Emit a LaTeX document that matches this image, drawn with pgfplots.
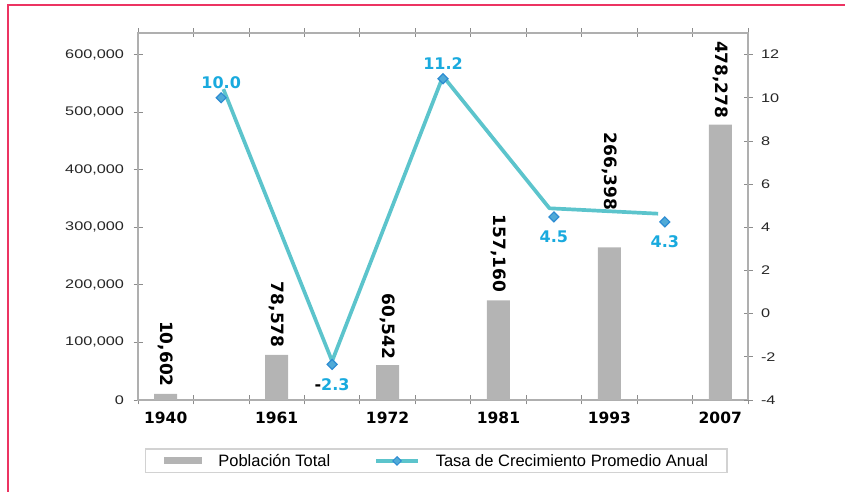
\documentclass[border=0pt]{standalone}
\usepackage{pgfplots}
\usepackage{pgfplotstable}
\pgfplotsset{compat=1.18}
\usepackage{fontspec}
\setmainfont{Liberation Sans}
\newfontfamily\tickfont[FakeStretch=1.3]{Liberation Sans}
\newfontfamily\dvs{DejaVu Sans}
\definecolor{pinkframe}{RGB}{236,52,98}
\definecolor{barg}{RGB}{180,180,180}
\definecolor{linec}{RGB}{92,196,204}
\definecolor{markf}{RGB}{80,170,215}
\definecolor{markd}{RGB}{45,140,210}
\definecolor{labc}{RGB}{25,170,222}
\definecolor{axg}{RGB}{175,175,175}
\definecolor{tickg}{RGB}{140,140,140}

\pgfplotstableread{
x y label off
0 10602 10,602 7
1 78578 78,578 7
2 60542 60,542 6
3 173000 157,160 8
4 265000 266,398 37
5 478278 478,278 6
}\bars

\begin{document}
\begin{tikzpicture}
\useasboundingbox (0pt,0pt) rectangle (845pt,492pt);
\draw[pinkframe, line width=2.5pt] (8pt,-3pt) -- (8pt,487pt) -- (850pt,487pt);
\begin{axis}[
  at={(138pt,92pt)}, anchor=south west,
  scale only axis, width=610pt, height=367pt,
  xmin=-0.25, xmax=5.25, ymin=0, ymax=637500,
  clip=false,
  axis line style={draw=axg, line width=1.5pt},
  xtick={0,1,2,3,4,5},
  xticklabels={1940,1961,1972,1981,1993,2007},
  major x tick style={draw=none},
  minor xtick={-0.25,0.25,0.75,1.25,1.75,2.25,2.75,3.25,3.75,4.25,4.75,5.25},
  minor x tick style={draw=tickg, line width=0.8pt},
  minor tick length=9pt,
  ytick={0,100000,200000,300000,400000,500000,600000},
  ytick pos=left,
  major y tick style={draw=tickg, line width=0.8pt},
  major tick length=9pt,
  tick align=center,
  scaled y ticks=false,
  /pgf/number format/.cd, fixed, 1000 sep={,}, assume math mode=true,
  /pgfplots/.cd,
  yticklabel style={font=\tickfont\fontsize{12.5}{12.5}\selectfont, text=black!85, xshift=-6pt},
  xticklabel style={font=\dvs\bfseries\fontsize{15.5}{15.5}\selectfont, text=black, yshift=-4pt},
  legend columns=2,
  legend cell align=left,
  legend style={at={(0.489,-0.166)}, anchor=center, draw=gray!35, line width=1.5pt,
    inner xsep=19pt, inner ysep=3pt,
    font=\fontsize{16.5}{16.5}\selectfont,
    nodes={inner xsep=0pt, inner ysep=2pt},
    /tikz/every odd column/.append style={column sep=16pt},
    /tikz/every even column/.append style={column sep=44pt}},
]
\addplot[ybar, bar width=23pt, fill=barg, draw=none,
  nodes near coords, point meta=explicit symbolic,
  visualization depends on={\thisrow{off} \as \myoff},
  every node near coord/.append style={yshift=\myoff pt, rotate=-90, anchor=east, inner sep=0pt,
    font=\dvs\bfseries\fontsize{17}{17}\selectfont, text=black},
  legend image code/.code={\fill[barg] (0pt,-3.5pt) rectangle (38pt,3.5pt);}
] table[x=x, y=y, meta=label] {\bars};
\addlegendentry{Población Total}
\addlegendimage{linec, line width=3.5pt, mark=square*, mark size=3pt,
  mark options={rotate=45, fill=markf, draw=markd, line width=1pt, solid},
  legend image code/.code={\draw[mark repeat=2, mark phase=2] plot coordinates {(0pt,0pt) (21pt,0pt) (42pt,0pt)};}}
\addlegendentry{Tasa de Crecimiento Promedio Anual}
\end{axis}

\begin{axis}[
  at={(138pt,92pt)}, anchor=south west,
  scale only axis, width=610pt, height=367pt,
  xmin=-0.25, xmax=5.25, ymin=-4, ymax=13,
  clip=false,
  axis x line=none, axis y line*=right,
  axis line style={draw=axg, line width=1.5pt, -},
  ytick={-4,-2,0,2,4,6,8,10,12},
  major y tick style={draw=tickg, line width=0.8pt},
  major tick length=9pt,
  tick align=center,
  /pgf/number format/.cd, fixed, assume math mode=true,
  /pgfplots/.cd,
  yticklabel style={font=\tickfont\fontsize{12.5}{12.5}\selectfont, text=black!85, xshift=5pt},
]
\addplot[linec, line width=3.7pt, line join=round] coordinates {
  (0.52,10.4) (1.5,-2.2) (2.5,11.0) (3.46,4.88) (4.44,4.63)};
\addplot[only marks, mark=square*, mark size=3.5pt,
  mark options={rotate=45, fill=markf, draw=markd, line width=1.2pt},
  nodes near coords, point meta=explicit symbolic,
  every node near coord/.append style={anchor=center, yshift=15pt, inner sep=0pt,
    font=\dvs\bfseries\fontsize{16}{16}\selectfont, text=labc}
] coordinates {(0.5,10.0) [10.0] (2.5,10.88) [11.2]};
\addplot[only marks, mark=square*, mark size=3.5pt,
  mark options={rotate=45, fill=markf, draw=markd, line width=1.2pt},
  nodes near coords, point meta=explicit symbolic,
  every node near coord/.append style={anchor=center, yshift=-20pt, inner sep=0pt,
    font=\dvs\bfseries\fontsize{16}{16}\selectfont, text=labc}
] coordinates {(1.5,-2.35) [{\textcolor{black}{-}2.3}] (3.5,4.48) [4.5] (4.5,4.25) [4.3]};
\end{axis}
\end{tikzpicture}
\end{document}
